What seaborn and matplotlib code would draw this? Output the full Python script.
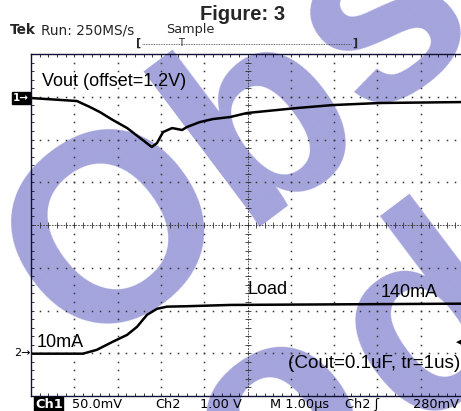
import numpy as np
import pandas as pd
import matplotlib
matplotlib.use("Agg")
import matplotlib.pyplot as plt
import seaborn as sns

# ---- Waveform data ----
# Channel 1: output voltage deviation (mV, 50 mV/div), time in microseconds
vout_t_us = [0.00, 1.06, 1.36, 1.59, 1.89, 2.22, 2.52, 2.79, 2.91, 3.05,
             3.26, 3.49, 3.60, 3.90, 4.20, 4.60, 4.99, 6.14, 6.97, 8.06, 10.0]
vout_mv = [0.0, -3.5, -10.5, -16.4, -25.7, -35.1, -46.8, -57.3, -52.6, -39.8,
           -35.1, -37.4, -33.9, -28.1, -24.6, -22.2, -17.5, -11.7, -8.2, -5.8, -4.7]

# Channel 2: load-step signal (V, 1.00 V/div)
load_t_us = [0.00, 1.20, 1.52, 1.89, 2.22, 2.45, 2.68, 2.91, 3.14, 3.60, 4.60, 10.0]
load_v = [-0.02, -0.02, 0.07, 0.26, 0.42, 0.61, 0.89, 1.03, 1.08, 1.09, 1.12, 1.15]

# Scope settings
CH1_SCALE_MV = 50.0
CH2_SCALE_V = 1.00
CH1_POS_DIV = 2.97
CH2_POS_DIV = -2.99

W, H = 461, 411
sns.set_theme(style="white")
plt.rcParams["font.family"] = ["DejaVu Sans"]

fig = plt.figure(figsize=(W / 100, H / 100), dpi=100, facecolor="white")


def fx(px):
    return px / W


def fy(py):
    return 1 - py / H


# Watermark behind the screen (two diagonal lines, set in pieces)
wm_color = "#A4A4DC"
wm_kw = dict(rotation=37, rotation_mode="anchor", ha="left", va="baseline",
             fontsize=192, fontweight="bold", family="Liberation Sans",
             color=wm_color, zorder=-10)
fig.text(fx(78), fy(356), "Ob", **wm_kw)
fig.text(fx(366), fy(120), "solete", **wm_kw)
fig.text(fx(30), fy(687), "Pro", **wm_kw)
fig.text(fx(408), fy(430), "duct", **wm_kw)

# Scope graticule: 10 x 8 divisions
left, right, top, bottom = 31, 464, 54, 396
ax = fig.add_axes([fx(left), fy(bottom), (right - left) / W, (bottom - top) / H])
ax.set_facecolor("none")
ax.set_xlim(0, 10)
ax.set_ylim(-4, 4)
for s in ax.spines.values():
    s.set_color("#101030")
    s.set_linewidth(1.0)

sub = np.round(np.arange(0, 10.001, 0.2), 3)
subv = np.round(np.arange(-4, 4.001, 0.2), 3)
ax.set_xticks(sub)
ax.set_yticks(subv)
ax.tick_params(axis="both", direction="in", length=2.5, width=0.6, color="#101030",
               top=True, bottom=True, left=True, right=True,
               labelbottom=False, labelleft=False)

dot_kw = dict(ls="none", marker="s", ms=1.1, color="#383838", mew=0)
for gx in range(1, 10):
    if gx == 5:
        continue
    ax.plot(np.full_like(subv, gx), subv, **dot_kw)
for gy in range(-3, 4):
    if gy == 0:
        continue
    ax.plot(sub, np.full_like(sub, gy), **dot_kw)

# Centre cross with fine ticks
ax.axhline(0, color="#303030", lw=0.6, ls=(0, (2, 1.5)))
ax.axvline(5, color="#303030", lw=0.6, ls=(0, (2, 1.5)))
ax.plot(sub, np.zeros_like(sub), ls="none", marker="|", ms=4, mew=0.6, color="#303030")
ax.plot(np.full_like(subv, 5.0), subv, ls="none", marker="_", ms=4, mew=0.6, color="#303030")

# Traces
df1 = pd.DataFrame({"t": vout_t_us,
                    "div": CH1_POS_DIV + np.array(vout_mv) / CH1_SCALE_MV})
df2 = pd.DataFrame({"t": load_t_us,
                    "div": CH2_POS_DIV + np.array(load_v) / CH2_SCALE_V})
sns.lineplot(data=df1, x="t", y="div", ax=ax, color="black", lw=1.8)
sns.lineplot(data=df2, x="t", y="div", ax=ax, color="black", lw=1.8)
ax.set_xlabel("")
ax.set_ylabel("")

# Labels on the screen
lab = dict(family="Liberation Sans", fontsize=13, color="black", va="center")
ax.text(0.25, 3.35, "Vout (offset=1.2V)", ha="left", **lab)
ax.text(4.99, -1.52, "Load", ha="left", **lab)
ax.text(8.08, -1.57, "140mA", ha="left", **lab)
ax.text(0.12, -2.74, "10mA", ha="left", **lab)
ax.text(9.91, -3.25, "(Cout=0.1uF, tr=1us)", ha="right",
        **{**lab, "fontsize": 13.6})

# Channel ground markers and trigger level
fig.text(fx(13), fy(98), "1\u2192", fontsize=7.5, color="white", ha="left", va="center",
         fontweight="bold",
         bbox=dict(boxstyle="square,pad=0.1", fc="black", ec="black"))
fig.text(fx(14), fy(353), "2\u2192", fontsize=8, color="black", ha="left", va="center")
fig.text(fx(461), fy(342), "\u25c0", fontsize=5, color="black", ha="right", va="center")

# Header
fig.text(fx(243), fy(14), "Figure: 3", family="Liberation Sans", fontweight="bold",
         fontsize=14.5, ha="center", va="center")
fig.text(fx(10), fy(30), "Tek", fontweight="bold", fontsize=9.8, ha="left", va="center")
fig.text(fx(41), fy(30), "Run: 250MS/s", fontsize=9.8, ha="left", va="center")
fig.text(fx(166), fy(30), "Sample", fontsize=9.3, ha="left", va="center")
fig.text(fx(139), fy(43), "[", fontsize=8, fontweight="bold", ha="center", va="center")
fig.text(fx(355), fy(43), "]", fontsize=8, fontweight="bold", ha="center", va="center")
fig.text(fx(181), fy(43), "T", fontsize=7, ha="center", va="center")
fig.add_artist(plt.Line2D([fx(142), fx(352)], [fy(44), fy(44)], color="#404040",
                          lw=0.6, ls=(0, (1, 1))))

# Footer readout
foot = dict(fontsize=9.3, ha="left", va="center", color="black")
fig.text(fx(35), fy(404), "Ch1", fontweight="bold", color="white", fontsize=9.3,
         ha="left", va="center",
         bbox=dict(boxstyle="square,pad=0.05", fc="black", ec="black"))
fig.text(fx(72), fy(404), "50.0mV", **foot)
fig.text(fx(155), fy(404), "Ch2", **foot)
fig.text(fx(200), fy(404), "1.00 V", **foot)
fig.text(fx(270), fy(404), "M 1.00\u00b5s", **foot)
fig.text(fx(345), fy(404), "Ch2 \u0283", **foot)
fig.text(fx(413), fy(404), "280mV", **foot)

fig.savefig("out.png", dpi=100, facecolor="white")
